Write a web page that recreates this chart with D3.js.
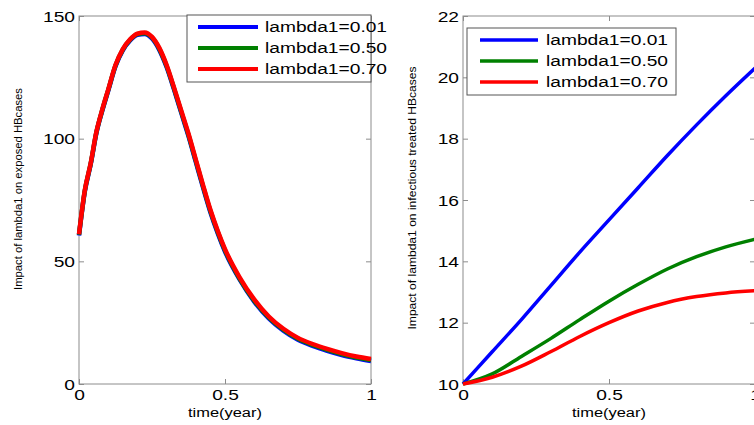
<!DOCTYPE html>
<html>
<head>
<meta charset="utf-8">
<script src="https://cdn.jsdelivr.net/npm/d3@7"></script>
<style>
body { margin: 0; background: #fff; }
text { font-family: "Liberation Sans", Arial, sans-serif; fill: #000; }
</style>
</head>
<body>
<svg id="chart" width="754" height="425"></svg>
<script>
// left panel: impact of lambda1 on exposed HB cases
var timeExposed = [0, 0.02, 0.04, 0.06, 0.08, 0.1, 0.125, 0.15, 0.175, 0.2, 0.225, 0.25, 0.275, 0.3,
    0.325, 0.35, 0.375, 0.4, 0.425, 0.45, 0.475, 0.5, 0.55, 0.6, 0.65, 0.7, 0.75, 0.8, 0.85, 0.9, 0.95, 1]
var exposedL001 = [60.5, 78.5, 89.5, 102.5, 111.5, 119.5, 129.5, 136, 140, 142.3, 142.7, 140.8, 136.2, 129.2,
    120.2, 110.6, 101, 90.5, 80, 70, 61.5, 54, 42.6, 33.6, 26.7, 21.7, 18, 15.5, 13.5, 11.8, 10.5, 9.4]
var exposedL050 = [60.8, 78.8, 89.8, 102.8, 111.8, 119.8, 129.8, 136.3, 140.3, 142.6, 143, 141.2, 136.6, 129.6,
    120.6, 111, 101.5, 91, 80.5, 70.5, 62, 54.5, 43, 34, 27.1, 22.1, 18.4, 15.9, 13.9, 12.2, 10.8, 9.8]
var exposedL070 = [61, 79, 90, 103, 112, 120, 130, 136.5, 140.5, 142.8, 143.3, 141.5, 137, 130,
    121, 111.5, 102, 91.5, 81, 71, 62.5, 55, 43.5, 34.5, 27.5, 22.5, 18.8, 16.3, 14.3, 12.6, 11.2, 10.2]

// right panel: impact of lambda1 on infectious treated HB cases
var timeTreated = [0, 0.1, 0.2, 0.3, 0.4, 0.5, 0.6, 0.7, 0.8, 0.9, 1]
var treatedL001 = [10, 11.05, 12.1, 13.2, 14.3, 15.35, 16.4, 17.45, 18.45, 19.4, 20.3]
var treatedL050 = [10, 10.33, 10.9, 11.48, 12.1, 12.7, 13.25, 13.75, 14.15, 14.47, 14.72]
var treatedL070 = [10, 10.22, 10.58, 11.05, 11.55, 12.0, 12.38, 12.66, 12.85, 12.97, 13.04]

var legendLabels = ["lambda1=0.01", "lambda1=0.50", "lambda1=0.70"]
var seriesColors = ["#0000ff", "#008000", "#ff0000"]
var xTicks = [0, 0.5, 1]
var yTicksExposed = [0, 50, 100, 150]
var yTicksTreated = [10, 12, 14, 16, 18, 20, 22]

var sx = 1.37   // the original export stretches glyphs horizontally
var axisGrey = "#8c8c8c"

var svg = d3.select("#chart")

function drawPanel(p) {
    var x = d3.scaleLinear().domain([0, 1]).range([p.left, p.right])
    var y = d3.scaleLinear().domain(p.yDomain).range([p.bottom, p.top])
    var g = svg.append("g")

    // box
    g.append("rect")
        .attr("x", p.left).attr("y", p.top)
        .attr("width", p.right - p.left).attr("height", p.bottom - p.top)
        .attr("fill", "none").attr("stroke", axisGrey).attr("stroke-width", 1)

    var bottomAxis = g.append("g")
        .attr("transform", "translate(0," + p.bottom + ")")
        .call(d3.axisBottom(x).tickValues(xTicks).tickSizeInner(-5).tickSizeOuter(0)
            .tickFormat(function (d) { return String(d) }))
    bottomAxis.select(".domain").remove()
    bottomAxis.selectAll("line").attr("stroke", axisGrey)
    bottomAxis.selectAll("text")
        .attr("y", 16).attr("dy", 0)
        .attr("x", 0)
        .attr("transform", "scale(" + sx + ",1)")
        .style("font-size", "14px").style("fill", "#000")

    var topAxis = g.append("g")
        .attr("transform", "translate(0," + p.top + ")")
        .call(d3.axisTop(x).tickValues(xTicks).tickSizeInner(-5).tickSizeOuter(0).tickFormat(""))
    topAxis.select(".domain").remove()
    topAxis.selectAll("line").attr("stroke", axisGrey)

    var leftAxis = g.append("g")
        .attr("transform", "translate(" + p.left + ",0)")
        .call(d3.axisLeft(y).tickValues(p.yTicks).tickSizeInner(-5).tickSizeOuter(0)
            .tickFormat(function (d) { return String(d) }))
    leftAxis.select(".domain").remove()
    leftAxis.selectAll("line").attr("stroke", axisGrey)
    leftAxis.selectAll("text")
        .attr("x", -4 / sx).attr("dy", "0.36em")
        .attr("transform", "scale(" + sx + ",1)")
        .style("font-size", "14px").style("fill", "#000")

    var rightAxis = g.append("g")
        .attr("transform", "translate(" + p.right + ",0)")
        .call(d3.axisRight(y).tickValues(p.yTicks).tickSizeInner(-5).tickSizeOuter(0).tickFormat(""))
    rightAxis.select(".domain").remove()
    rightAxis.selectAll("line").attr("stroke", axisGrey)

    // curves
    var line = d3.line()
        .x(function (d) { return x(d[0]) })
        .y(function (d) { return y(d[1]) })
        .curve(d3.curveMonotoneX)
    p.series.forEach(function (vals, i) {
        var pts = p.time.map(function (t, k) { return [t, vals[k]] })
        g.append("path")
            .datum(pts)
            .attr("d", line)
            .attr("fill", "none")
            .attr("stroke", seriesColors[i])
            .attr("stroke-width", p.lineWidth)
            .attr("stroke-linejoin", "round")
    })

    // x label
    g.append("text")
        .attr("x", ((p.left + p.right) / 2) / sx)
        .attr("y", 417)
        .attr("transform", "scale(" + sx + ",1)")
        .attr("text-anchor", "middle")
        .style("font-size", "12px")
        .text("time(year)")

    // y label
    g.append("text")
        .attr("transform", "translate(" + p.yLabelX + "," + p.yLabelY + ") rotate(-90)")
        .attr("text-anchor", "middle")
        .attr("textLength", p.yLabelLength)
        .attr("lengthAdjust", "spacingAndGlyphs")
        .style("font-size", "10px")
        .text(p.yLabel)

    // legend
    var lg = p.legend
    g.append("rect")
        .attr("x", lg.x).attr("y", lg.y)
        .attr("width", lg.w).attr("height", lg.h)
        .attr("fill", "#fff").attr("stroke", "#555").attr("stroke-width", 1)
    legendLabels.forEach(function (lab, i) {
        var ry = lg.y + lg.firstRow + i * 21
        g.append("line")
            .attr("x1", lg.x + lg.lineStart).attr("x2", lg.x + lg.lineStart + lg.lineLen)
            .attr("y1", ry).attr("y2", ry)
            .attr("stroke", seriesColors[i]).attr("stroke-width", lg.lineWidth)
        g.append("text")
            .attr("x", (lg.x + lg.textStart) / sx)
            .attr("y", ry)
            .attr("dy", "0.36em")
            .attr("transform", "scale(" + sx + ",1)")
            .style("font-size", "14px")
            .text(lab)
    })
}

drawPanel({
    left: 79, right: 371, top: 16, bottom: 384,
    yDomain: [0, 150], yTicks: yTicksExposed,
    time: timeExposed, series: [exposedL001, exposedL050, exposedL070],
    lineWidth: 4.5,
    yLabel: "Impact of lambda1 on exposed HBcases",
    yLabelX: 22, yLabelY: 189, yLabelLength: 202,
    legend: { x: 187, y: 15, w: 184, h: 67, firstRow: 12, lineStart: 11, lineLen: 60, textStart: 78, lineWidth: 4 }
})

drawPanel({
    left: 463, right: 755, top: 16, bottom: 384,
    yDomain: [10, 22], yTicks: yTicksTreated,
    time: timeTreated, series: [treatedL001, treatedL050, treatedL070],
    lineWidth: 3.5,
    yLabel: "Impact of lambda1 on infectious treated HBcases",
    yLabelX: 416, yLabelY: 198, yLabelLength: 263,
    legend: { x: 467, y: 28, w: 209, h: 67, firstRow: 12, lineStart: 13, lineLen: 58, textStart: 79, lineWidth: 3.5 }
})
</script>
</body>
</html>
